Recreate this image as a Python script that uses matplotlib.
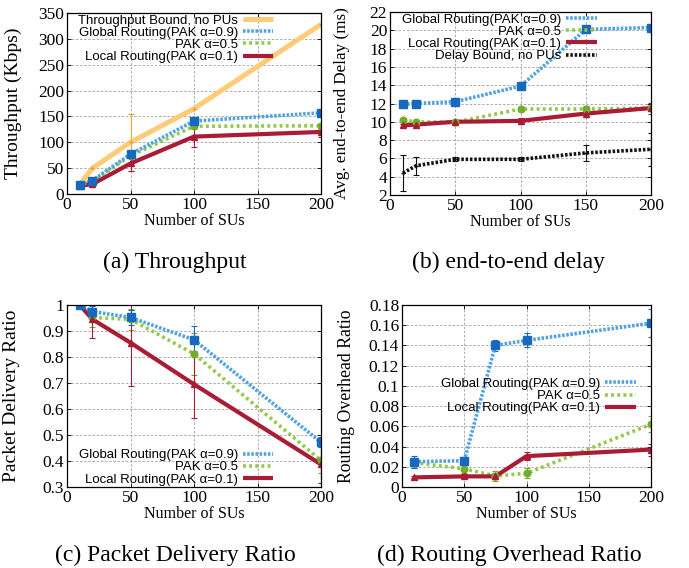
import numpy as np
import matplotlib
matplotlib.use("Agg")
import matplotlib.pyplot as plt
from matplotlib.lines import Line2D

# ---- data ----
# (a) throughput
thr_x = [10, 20, 50, 100, 200]
thr_bound = [18, 50, 100, 165, 328]
thr_bound_err = [0, 0, 55, 0, 0]
thr_global = [17, 26, 77, 141, 157]
thr_global_err = [2, 3, 4, 5, 8]
thr_pak5 = [17, 24, 74, 131, 132]
thr_pak5_err = [2, 3, 4, 5, 6]
thr_local = [16, 19, 59, 111, 120]
thr_local_err = [2, 3, 15, 20, 10]

# (b) delay
dly_x = [10, 20, 50, 100, 150, 200]
dly_global = [11.9, 12.0, 12.2, 13.9, 20.1, 20.3]
dly_global_err = [0.15, 0.15, 0.2, 0.2, 0.25, 0.2]
dly_pak5 = [10.2, 10.0, 9.95, 11.4, 11.4, 11.5]
dly_pak5_err = [0.2, 0.2, 0.2, 0.2, 0.3, 0.3]
dly_local = [9.6, 9.7, 10.0, 10.1, 10.9, 11.5]
dly_local_err = [0.2, 0.2, 0.2, 0.3, 0.4, 0.6]
dly_bound = [4.4, 5.2, 5.9, 5.9, 6.6, 7.0]
dly_bound_err = [2.0, 1.0, 0.2, 0.2, 0.9, 1.8]

# (c) packet delivery ratio
pdr_x = [10, 20, 50, 100, 200]
pdr_global = [1.0, 0.975, 0.952, 0.866, 0.472]
pdr_global_err = [0.005, 0.02, 0.03, 0.055, 0.02]
pdr_pak5 = [1.0, 0.952, 0.945, 0.812, 0.402]
pdr_pak5_err = [0.005, 0.035, 0.04, 0.08, 0.05]
pdr_local = [1.0, 0.945, 0.855, 0.695, 0.387]
pdr_local_err = [0.01, 0.07, 0.165, 0.13, 0.07]

# (d) routing overhead ratio
ror_x = [10, 50, 75, 100, 200]
ror_global = [0.025, 0.026, 0.140, 0.145, 0.162]
ror_global_err = [0.006, 0.003, 0.005, 0.007, 0.014]
ror_pak5 = [0.024, 0.018, 0.011, 0.0135, 0.062]
ror_pak5_err = [0.005, 0.004, 0.005, 0.005, 0.008]
ror_local = [0.0095, 0.0105, 0.0105, 0.0305, 0.037]
ror_local_err = [0.001, 0.002, 0.003, 0.004, 0.006]

lab_global = "Global Routing(PAK α=0.9)"
lab_pak5 = "PAK α=0.5"
lab_local = "Local Routing(PAK α=0.1)"

SERIF = "Liberation Serif"
SANS = "Liberation Sans"

# line styles, gnuplot look
st_global = dict(color="#4fa3e0", mcolor="#1769c0", marker="s", ms=5.5, ls=(0, (0.7, 0.45)), lw=2.6)
st_pak5 = dict(color="#95c94a", mcolor="#74ad2c", marker="o", ms=4.8, ls=(0, (0.8, 0.9)), lw=2.6)
st_local = dict(color="#a81c35", mcolor="#a81c35", marker="^", ms=4.0, ls="-", lw=3.0)
st_tbound = dict(color="#ffcb78", mcolor="#f0a030", marker="+", ms=3, ls="-", lw=3.6)
st_dbound = dict(color="#111111", mcolor="#111111", marker="+", ms=3, ls=(0, (0.7, 0.5)), lw=2.6)


def draw(ax, x, y, err, st, z=2):
    ax.errorbar(x, y, yerr=err, fmt="none", ecolor=st["mcolor"], elinewidth=0.8,
                capsize=2, capthick=0.8, zorder=z)
    ax.plot(x, y, color=st["color"], ls=st["ls"], lw=st["lw"], zorder=z,
            solid_capstyle="butt", dash_capstyle="butt")
    ax.plot(x, y, ls="none", marker=st["marker"], ms=st["ms"], color=st["mcolor"],
            mec=st["mcolor"], zorder=z + 0.5)


def proxy(st, label):
    return Line2D([0], [0], color=st["color"], ls=st["ls"], lw=st["lw"], label=label,
                  solid_capstyle="butt", dash_capstyle="butt")


def style(ax, ylim, yticks, yfmt, ylabel, ysize, ylx):
    ax.set_xlim(0, 200)
    ax.set_ylim(*ylim)
    ax.set_xticks([0, 50, 100, 150, 200])
    ax.set_yticks(yticks)
    ax.set_yticklabels([yfmt(v) for v in yticks])
    ax.grid(True, ls=(0, (3, 2)), color="#a0a0a0", lw=0.6)
    ax.set_axisbelow(True)
    ax.tick_params(direction="in", top=True, right=True, length=3, width=0.6,
                   labelsize=12.5, pad=2)
    for lb in ax.get_xticklabels() + ax.get_yticklabels():
        lb.set_fontfamily(SERIF)
    for s in ax.spines.values():
        s.set_linewidth(0.9)
    ax.set_xlabel("Number of SUs", family=SERIF, fontsize=11.5, labelpad=0)
    ax.set_ylabel(ylabel, family=SERIF, fontsize=ysize)
    ax.yaxis.set_label_coords(ylx, 0.5)


def legend(ax, handles, loc, anchor):
    leg = ax.legend(handles=handles, frameon=False, markerfirst=False, loc=loc,
                    bbox_to_anchor=anchor, prop={"family": SANS, "size": 9.5},
                    handlelength=2.3, labelspacing=0.0, handletextpad=0.4,
                    borderaxespad=0.0, borderpad=0.1)
    leg.set_zorder(5)
    return leg


fig = plt.figure(figsize=(6.89, 5.68), dpi=100)
W, H = 689, 568


def axes_px(l, r, t, b):
    return fig.add_axes([l / W, 1 - b / H, (r - l) / W, (b - t) / H])


# (a)
ax = axes_px(67, 321, 13, 194)
draw(ax, thr_x, thr_bound, thr_bound_err, st_tbound, z=1.5)
draw(ax, thr_x, thr_pak5, thr_pak5_err, st_pak5)
draw(ax, thr_x, thr_local, thr_local_err, st_local)
draw(ax, thr_x, thr_global, thr_global_err, st_global)
style(ax, (0, 350), np.arange(0, 351, 50), lambda v: "%d" % v,
      "Throughput (Kbps)", 14, -0.178)
legend(ax, [proxy(st_tbound, "Throughput Bound, no PUs"), proxy(st_global, lab_global),
            proxy(st_pak5, lab_pak5), proxy(st_local, lab_local)],
       "upper right", (0.818, 1.0))

# (b)
ax = axes_px(390, 651, 12, 195)
draw(ax, dly_x, dly_bound, dly_bound_err, st_dbound)
draw(ax, dly_x, dly_pak5, dly_pak5_err, st_pak5)
draw(ax, dly_x, dly_local, dly_local_err, st_local)
draw(ax, dly_x, dly_global, dly_global_err, st_global)
style(ax, (2, 22), np.arange(2, 23, 2), lambda v: "%d" % v,
      "Avg. end-to-end Delay (ms)", 12.3, -0.153)
legend(ax, [proxy(st_global, lab_global), proxy(st_pak5, lab_pak5),
            proxy(st_local, lab_local), proxy(st_dbound, "Delay Bound, no PUs")],
       "upper right", (0.797, 1.0))

# (c)
ax = axes_px(67, 321, 305, 487)
draw(ax, pdr_x, pdr_pak5, pdr_pak5_err, st_pak5)
draw(ax, pdr_x, pdr_local, pdr_local_err, st_local)
draw(ax, pdr_x, pdr_global, pdr_global_err, st_global)
style(ax, (0.3, 1.0), np.round(np.arange(0.3, 1.01, 0.1), 1),
      lambda v: "1" if v == 1 else "%.1f" % v, "Packet Delivery Ratio", 14, -0.185)
legend(ax, [proxy(st_global, lab_global), proxy(st_pak5, lab_pak5), proxy(st_local, lab_local)],
       "lower right", (0.818, 0.0))

# (d)
ax = axes_px(402, 651, 305, 487)
draw(ax, ror_x, ror_pak5, ror_pak5_err, st_pak5)
draw(ax, ror_x, ror_local, ror_local_err, st_local)
draw(ax, ror_x, ror_global, ror_global_err, st_global)
style(ax, (0, 0.18), np.round(np.arange(0, 0.181, 0.02), 2),
      lambda v: "0" if v == 0 else ("%.2f" % v).rstrip("0"),
      "Routing Overhead Ratio", 12.8, -0.189)
legend(ax, [proxy(st_global, lab_global), proxy(st_pak5, lab_pak5), proxy(st_local, lab_local)],
       "center right", (0.944, 0.5))

# captions
cap = dict(family=SERIF, fontsize=17, ha="center", va="center")
fig.text(175 / W, 1 - 262 / H, "(a) Throughput", **cap)
fig.text(509 / W, 1 - 262 / H, "(b) end-to-end delay", **cap)
fig.text(175 / W, 1 - 555 / H, "(c) Packet Delivery Ratio", **cap)
fig.text(509 / W, 1 - 555 / H, "(d) Routing Overhead Ratio", **cap)

fig.savefig("out.png", dpi=100)
